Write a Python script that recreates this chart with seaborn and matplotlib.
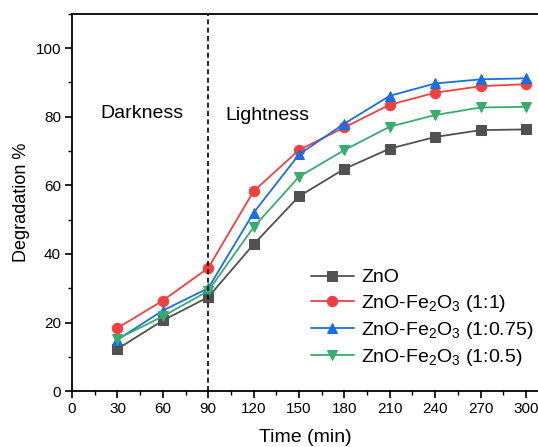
import matplotlib
matplotlib.use("Agg")
import matplotlib.pyplot as plt
import seaborn as sns
import pandas as pd
from matplotlib.ticker import MultipleLocator

sns.set_theme(style="ticks")
plt.rcParams["font.family"] = ["Liberation Sans", "DejaVu Sans"]
plt.rcParams["mathtext.fontset"] = "custom"
plt.rcParams["mathtext.rm"] = "Liberation Sans"
plt.rcParams["mathtext.it"] = "Liberation Sans:italic"
plt.rcParams["text.color"] = "black"
plt.rcParams["axes.labelcolor"] = "black"

# Degradation over time for each catalyst
time_min = [30, 60, 90, 120, 150, 180, 210, 240, 270, 300]
zno = [12.3, 20.6, 27.4, 42.8, 56.8, 64.8, 70.7, 74.1, 76.1, 76.3]
zno_fe_1_1 = [18.4, 26.4, 35.9, 58.3, 70.3, 76.9, 83.5, 87.0, 88.9, 89.5]
zno_fe_1_075 = [15.0, 23.5, 30.0, 52.0, 69.0, 78.0, 86.1, 89.7, 90.9, 91.2]
zno_fe_1_05 = [15.2, 21.8, 29.2, 47.8, 62.5, 70.3, 77.1, 80.5, 82.7, 82.9]

series_labels = [
    "ZnO",
    r"ZnO-Fe$_2$O$_3$ (1:1)",
    r"ZnO-Fe$_2$O$_3$ (1:0.75)",
    r"ZnO-Fe$_2$O$_3$ (1:0.5)",
]
series_values = [zno, zno_fe_1_1, zno_fe_1_075, zno_fe_1_05]
colors = ["#515151", "#F14040", "#1A6FDF", "#37AD6B"]
markers = ["s", "o", "^", "v"]

fig = plt.figure(figsize=(5.38, 4.47), dpi=100)
ax = fig.add_axes([0.134, 0.125, 0.866, 0.844])

for label, vals, c, m in zip(series_labels, series_values, colors, markers):
    df = pd.DataFrame({"Time": time_min, "Deg": vals})
    sns.lineplot(data=df, x="Time", y="Deg", ax=ax, color=c, marker=m,
                 markersize=7.5, markeredgecolor=c, linewidth=1.3, label=label)

ax.axvline(90, color="black", linestyle="--", linewidth=1.2, dashes=(3, 2))

ax.text(46, 81, "Darkness", fontsize=14, ha="center", va="center")
ax.text(129, 80.5, "Lightness", fontsize=14, ha="center", va="center")

ax.set_xlim(0, 308)
ax.set_ylim(0, 110)
ax.set_xticks(range(0, 301, 30))
ax.set_yticks(range(0, 101, 20))
ax.xaxis.set_minor_locator(MultipleLocator(15))
ax.yaxis.set_minor_locator(MultipleLocator(10))
ax.tick_params(which="major", direction="out", length=5, width=1.2,
               labelsize=11, color="black", labelcolor="black", pad=3)
ax.tick_params(which="minor", direction="out", length=3, width=1.0, color="black")
ax.set_xlabel("Time (min)", fontsize=14, labelpad=9)
ax.set_ylabel("Degradation %", fontsize=13, labelpad=4)

for side in ["left", "bottom", "top"]:
    ax.spines[side].set_color("black")
    ax.spines[side].set_linewidth(1.3)
ax.spines["right"].set_visible(False)

ax.legend(loc="lower right", bbox_to_anchor=(1.02, 0.025), frameon=False,
          fontsize=14, handlelength=2.2, handletextpad=0.4, labelspacing=0.32,
          borderaxespad=0.3)

fig.savefig("out.png", dpi=100)
